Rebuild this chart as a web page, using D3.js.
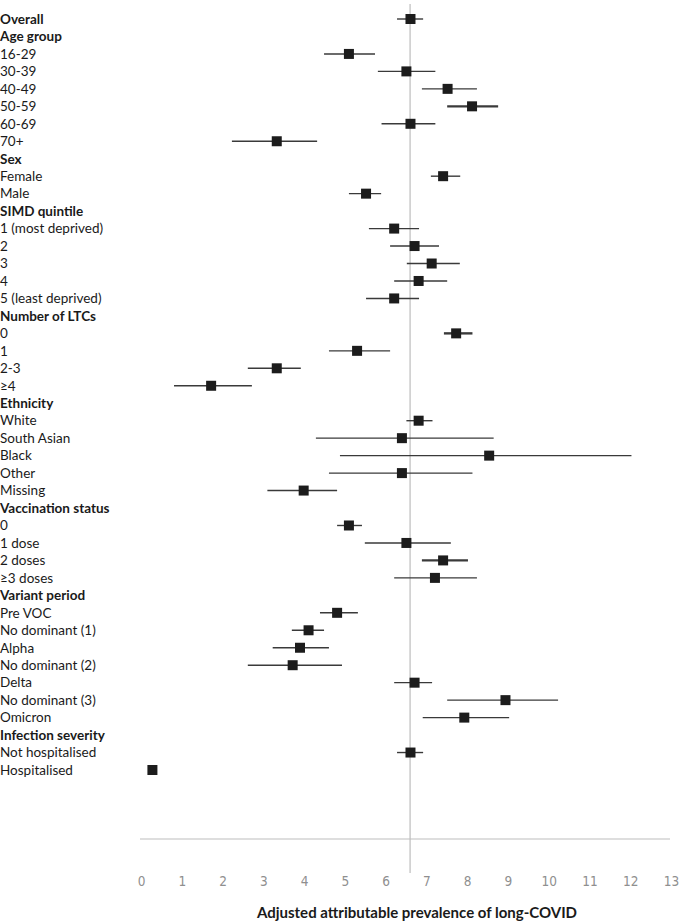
<!DOCTYPE html>
<html><head><meta charset="utf-8">
<script src="https://cdn.jsdelivr.net/npm/d3@7"></script>
<style>body{margin:0;background:#fff}</style>
</head><body>
<svg id="c" width="685" height="924"></svg>
<script>
const labels = ["Overall","Age group","16-29","30-39","40-49","50-59","60-69","70+","Sex","Female","Male","SIMD quintile","1 (most deprived)","2","3","4","5 (least deprived)","Number of LTCs","0","1","2-3","≥4","Ethnicity","White","South Asian","Black","Other","Missing","Vaccination status","0","1 dose","2 doses","≥3 doses","Variant period","Pre VOC","No dominant (1)","Alpha","No dominant (2)","Delta","No dominant (3)","Omicron","Infection severity","Not hospitalised","Hospitalised"];
const isHeader = [1,1,0,0,0,0,0,0,1,0,0,1,0,0,0,0,0,1,0,0,0,0,1,0,0,0,0,0,1,0,0,0,0,1,0,0,0,0,0,0,0,1,0,0];
const estimate = [6.61,null,5.10,6.51,7.52,8.12,6.61,3.33,null,7.41,5.52,null,6.21,6.71,7.13,6.81,6.21,null,7.73,5.30,3.33,1.72,null,6.81,6.40,8.54,6.40,3.99,null,5.10,6.51,7.41,7.21,null,4.81,4.11,3.90,3.72,6.71,8.94,7.93,null,6.61,0.28];
const lower = [6.28,null,4.49,5.81,6.89,7.51,5.90,2.23,null,7.11,5.10,null,5.59,6.11,6.52,6.21,5.52,null,7.43,4.61,2.62,0.81,null,6.51,4.29,4.88,4.61,3.10,null,4.81,5.49,6.89,6.21,null,4.39,3.70,3.23,2.62,6.21,7.51,6.91,null,6.28,null];
const upper = [6.92,null,5.74,7.22,8.24,8.76,7.22,4.32,null,7.83,5.89,null,6.82,7.31,7.82,7.51,6.82,null,8.13,6.11,3.92,2.72,null,7.15,8.65,12.03,8.13,4.81,null,5.42,7.60,8.02,8.24,null,5.32,4.49,4.61,4.93,7.14,10.23,9.03,null,6.92,null];
const heavy = [0,0,0,0,0,1,0,0,0,0,0,0,0,0,0,0,0,0,1,0,0,0,0,0,0,0,0,0,0,0,0,1,0,0,0,0,0,0,0,0,0,0,0,0];
const tickValues = [0,1,2,3,4,5,6,7,8,9,10,11,12,13];
const refValue = 6.6;
const xTitle = "Adjusted attributable prevalence of long-COVID";

const svg = d3.select("#c");
const x = d3.scaleLinear().domain([0,13]).range([141,671]);
const y = d3.scalePoint().domain(d3.range(labels.length)).range([19,770]);

svg.append("line").attr("x1",x(refValue)).attr("x2",x(refValue)).attr("y1",4).attr("y2",873)
  .attr("stroke","#bdbdbd").attr("stroke-width",1.2);
svg.append("line").attr("x1",x(0)-1).attr("x2",x(13)-1).attr("y1",839).attr("y2",839)
  .attr("stroke","#bdbdbd").attr("stroke-width",1.2);

const ax = d3.axisBottom(x).tickValues(tickValues).tickSize(0).tickPadding(0).tickFormat(d3.format("d"));
const axg = svg.append("g").attr("transform","translate(0,876)").call(ax);
axg.select(".domain").remove();
axg.selectAll("text").attr("font-family","'DejaVu Sans Condensed','DejaVu Sans',sans-serif")
  .attr("font-size",13.5).attr("fill","#8f8f8f");

svg.append("g").selectAll("text").data(labels).join("text")
  .attr("x",0).attr("y",(d,i)=>y(i)+4.8)
  .attr("font-family","Lato, 'Open Sans', sans-serif").attr("font-size",13.5)
  .attr("font-weight",(d,i)=>isHeader[i]?"bold":"normal")
  .attr("fill","#1a1a1a").text(d=>d);

const idx = d3.range(labels.length);
svg.append("g").selectAll("line").data(idx.filter(i=>lower[i]!=null)).join("line")
  .attr("x1",i=>x(lower[i])).attr("x2",i=>x(upper[i]))
  .attr("y1",i=>y(i)).attr("y2",i=>y(i))
  .attr("stroke","#3a3a3a").attr("stroke-width",i=>heavy[i]?2.4:1.4);

const s = 10;
svg.append("g").selectAll("rect").data(idx.filter(i=>estimate[i]!=null)).join("rect")
  .attr("x",i=>x(estimate[i])-s/2).attr("y",i=>y(i)-s/2)
  .attr("width",s).attr("height",s).attr("fill","#1c1c1c");

svg.append("text").attr("x",417).attr("y",918).attr("text-anchor","middle")
  .attr("font-family","Lato, 'Open Sans', sans-serif").attr("font-weight","bold").attr("font-size",15)
  .attr("fill","#1a1a1a").text(xTitle);
</script>
</body></html>
